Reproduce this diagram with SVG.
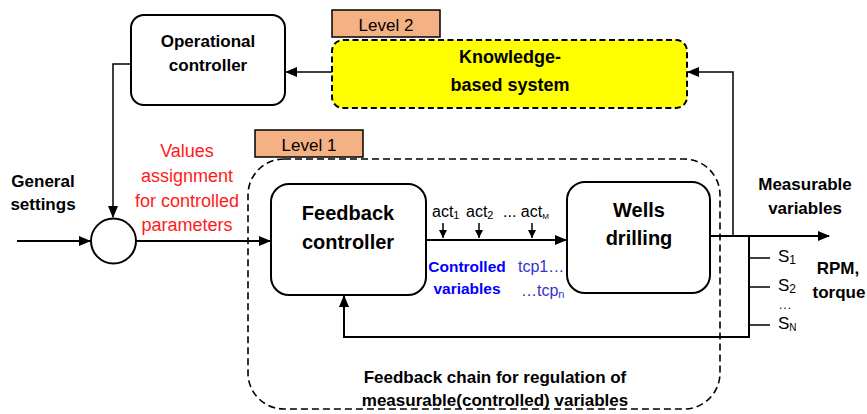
<svg xmlns="http://www.w3.org/2000/svg" width="867" height="414" viewBox="0 0 867 414">
<style>
text{font-family:"Liberation Sans",Arial,sans-serif;fill:#000}
.b{font-weight:bold}
.box{fill:#fff;stroke:#000;stroke-width:2}
.lvl{fill:#F4B183;stroke:#000;stroke-width:1.5}
.ln{fill:none;stroke:#000;stroke-width:2}
.thin{fill:none;stroke:#000;stroke-width:1.5}
</style>
<defs>
<marker id="ah" markerUnits="userSpaceOnUse" markerWidth="12" markerHeight="10" refX="11" refY="5" orient="auto"><path d="M0,0 L12,5 L0,10 z" fill="#000"/></marker>
<marker id="sa" markerUnits="userSpaceOnUse" markerWidth="8" markerHeight="8" refX="8" refY="4" orient="auto"><path d="M0,0 L8,4 L0,8 z" fill="#000"/></marker>
</defs>

<g id="level1-region">
<rect x="248" y="159" width="472" height="250" rx="36" ry="36" fill="none" stroke="#000" stroke-width="1.6" stroke-dasharray="7 4"/>
<text x="495" y="383" text-anchor="middle" class="b" font-size="17">Feedback chain for regulation of</text>
<text x="495" y="406" text-anchor="middle" class="b" font-size="17">measurable(controlled) variables</text>
</g>

<g id="level1-label">
<rect class="lvl" x="255" y="130" width="108" height="27"/>
<text x="309" y="151" text-anchor="middle" font-size="17">Level 1</text>
</g>

<g id="level2-label">
<rect class="lvl" x="332" y="10" width="108" height="27"/>
<text x="386" y="31" text-anchor="middle" font-size="17">Level 2</text>
</g>

<g id="operational-controller">
<rect class="box" x="131" y="15" width="154" height="90" rx="13"/>
<text x="208" y="47" text-anchor="middle" class="b" font-size="17">Operational</text>
<text x="208" y="71" text-anchor="middle" class="b" font-size="17">controller</text>
</g>

<g id="knowledge-system">
<rect x="332" y="40" width="355" height="68" rx="11" fill="#FFFF00" stroke="#000" stroke-width="2" stroke-dasharray="6 3.5"/>
<text x="510" y="63" text-anchor="middle" class="b" font-size="18">Knowledge-</text>
<text x="510" y="91" text-anchor="middle" class="b" font-size="18">based system</text>
</g>

<g id="sum-junction">
<circle cx="113.5" cy="241" r="22.5" fill="#fff" stroke="#000" stroke-width="2"/>
</g>

<g id="feedback-controller">
<rect class="box" x="271" y="184" width="155" height="111" rx="18"/>
<text x="348" y="220" text-anchor="middle" class="b" font-size="20">Feedback</text>
<text x="348" y="249" text-anchor="middle" class="b" font-size="20">controller</text>
</g>

<g id="wells-drilling">
<rect class="box" x="567" y="182" width="143" height="111" rx="18"/>
<text x="639" y="217" text-anchor="middle" class="b" font-size="20">Wells</text>
<text x="639" y="245" text-anchor="middle" class="b" font-size="20">drilling</text>
</g>

<g id="connectors">
<path class="thin" d="M332,72 L286,72" marker-end="url(#ah)"/>
<path class="thin" d="M131,64 L113,64 L113,217" marker-end="url(#ah)"/>
<path class="ln" d="M17,241 L90,241" marker-end="url(#ah)"/>
<path class="ln" d="M136,241 L270,241" marker-end="url(#ah)"/>
<path class="ln" d="M426,240 L566,240" marker-end="url(#ah)"/>
<path class="thin" d="M443,223 L443,238" marker-end="url(#sa)"/>
<path class="thin" d="M479,223 L479,238" marker-end="url(#sa)"/>
<path class="thin" d="M532,223 L532,238" marker-end="url(#sa)"/>
<path class="ln" d="M710,236 L829,236" marker-end="url(#ah)"/>
<path class="thin" d="M733,236 L733,72 L688,72" marker-end="url(#ah)"/>
<path class="ln" d="M749,236 L749,337 L344,337 L344,296" marker-end="url(#ah)"/>
<path class="thin" d="M749,258 L770,258 M749,287 L770,287 M749,325 L770,325"/>
</g>

<g id="labels">
<text x="43" y="187" text-anchor="middle" class="b" font-size="17">General</text>
<text x="43" y="210" text-anchor="middle" class="b" font-size="17">settings</text>
<g font-size="18" text-anchor="middle">
<text x="187" y="157" style="fill:#FF1A1A">Values</text>
<text x="187" y="182" style="fill:#FF1A1A">assignment</text>
<text x="187" y="207" style="fill:#FF1A1A">for controlled</text>
<text x="187" y="231" style="fill:#FF1A1A">parameters</text>
</g>
<text x="432" y="217" font-size="16">act<tspan font-size="11" dy="2">1</tspan></text>
<text x="466" y="217" font-size="16">act<tspan font-size="11" dy="2">2</tspan></text>
<text x="503" y="217" font-size="16">... act<tspan font-size="8" dy="2">M</tspan></text>
<text x="467" y="272" text-anchor="middle" class="b" font-size="15.5" style="fill:#0000FF">Controlled</text>
<text x="467" y="294" text-anchor="middle" class="b" font-size="15.5" style="fill:#0000FF">variables</text>
<text x="518" y="272" font-size="16" style="fill:#3333CC">tcp1…</text>
<text x="521" y="296" font-size="16" style="fill:#3333CC">…tcp<tspan font-size="11" dy="2">n</tspan></text>
<text x="805" y="190" text-anchor="middle" class="b" font-size="17">Measurable</text>
<text x="805" y="214" text-anchor="middle" class="b" font-size="17">variables</text>
<text x="778" y="262" font-size="17">S<tspan font-size="12" dy="2">1</tspan></text>
<text x="778" y="291" font-size="17">S<tspan font-size="12" dy="2">2</tspan></text>
<text x="779" y="309" font-size="12" letter-spacing="1">...</text>
<text x="778" y="329" font-size="17">S<tspan font-size="10" dy="2">N</tspan></text>
<text x="838" y="274" text-anchor="middle" class="b" font-size="17">RPM,</text>
<text x="839" y="298" text-anchor="middle" class="b" font-size="17">torque</text>
</g>
</svg>
